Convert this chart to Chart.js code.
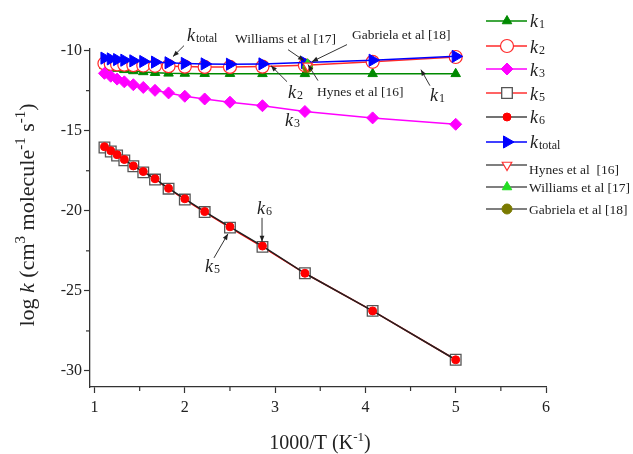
<!DOCTYPE html>
<html>
<head>
<meta charset="utf-8">
<script src="https://cdn.jsdelivr.net/npm/chart.js@4.4.0/dist/chart.umd.min.js"></script>
<style>
html,body{margin:0;padding:0;background:#fff}
#wrap{width:633px;height:454px;position:relative}
</style>
</head>
<body>
<div id="wrap"><canvas id="c"></canvas></div>
<script>
// 1000/T values (K^-1)
const invT = [1.11, 1.18, 1.25, 1.33, 1.43, 1.54, 1.67, 1.82, 2.0, 2.22, 2.5, 2.86, 3.33, 4.08, 5.0];
const k1 = [-10.95, -11.05, -11.12, -11.2, -11.27, -11.33, -11.38, -11.42, -11.43, -11.44, -11.44, -11.45, -11.45, -11.45, -11.45];
const k2 = [-10.8, -10.83, -10.86, -10.88, -10.91, -10.93, -10.95, -10.97, -11.0, -11.02, -11.02, -11.0, -10.92, -10.7, -10.4];
const k3 = [-11.42, -11.6, -11.78, -11.95, -12.13, -12.3, -12.48, -12.64, -12.85, -13.02, -13.22, -13.44, -13.8, -14.2, -14.6];
const k5 = [-16.05, -16.3, -16.55, -16.85, -17.22, -17.6, -18.05, -18.62, -19.3, -20.08, -21.05, -22.25, -23.9, -26.25, -29.3];
const k6 = [-16.0, -16.25, -16.5, -16.8, -17.2, -17.55, -18.0, -18.6, -19.25, -20.05, -21.0, -22.2, -23.9, -26.25, -29.3];
const kTotal = [-10.47, -10.52, -10.56, -10.6, -10.64, -10.68, -10.72, -10.76, -10.8, -10.83, -10.85, -10.83, -10.75, -10.6, -10.36];

// literature values at 298 K
const litX = [3.36];
const hynes = [-10.95];
const williams = [-10.85];
const gabriela = [-11.05];

const xTicks = [1, 2, 3, 4, 5, 6];
const xMinor = [1.5, 2.5, 3.5, 4.5, 5.5];
const yTicks = [-30, -25, -20, -15, -10];
const yMinor = [-27.5, -22.5, -17.5, -12.5];

const SERIF = '"Liberation Serif", "Times New Roman", serif';
const INK = '#222';

function pts(xs, ys){ return xs.map((x, i) => ({x, y: ys[i]})) }

// text labels with arrows, positions in data units
const notes = [
  {segs:[['k','i'],['total','sub']], size:18, at:[2.024,-9.375], from:[1.991,-9.69], to:[1.869,-10.375]},
  {segs:[['Williams et al [17]','n']], size:13.5, at:[2.556,-9.5], from:[3.143,-9.94], to:[3.32,-10.625]},
  {segs:[['Gabriela et al [18]','n']], size:13.5, at:[3.851,-9.25], from:[3.796,-9.625], to:[3.408,-10.69]},
  {segs:[['Hynes et al [16]','n']], size:13.5, at:[3.464,-12.81], from:[3.475,-11.875], to:[3.364,-10.875]},
  {segs:[['k','i'],['2','sub']], size:18, at:[3.143,-12.94], from:[3.132,-11.94], to:[2.954,-10.94]},
  {segs:[['k','i'],['1','sub']], size:18, at:[4.715,-13.125], from:[4.715,-12.19], to:[4.615,-11.19]},
  {segs:[['k','i'],['3','sub']], size:18, at:[3.109,-14.69]},
  {segs:[['k','i'],['6','sub']], size:18, at:[2.799,-20.19], from:[2.855,-20.44], to:[2.855,-21.94]},
  {segs:[['k','i'],['5','sub']], size:18, at:[2.224,-23.81], from:[2.323,-22.94], to:[2.478,-21.44]}
];

function segFont(f, size){
  if(f === 'i') return `italic ${size}px ${SERIF}`;
  if(f === 'sub' || f === 'sup') return `${Math.round(size*0.66)}px ${SERIF}`;
  return `${size}px ${SERIF}`;
}
function richWidth(ctx, segs, size){
  let w = 0;
  segs.forEach(([t, f]) => { ctx.font = segFont(f, size); w += ctx.measureText(t).width + (f==='sub'?1:0) });
  return w;
}
function drawRich(ctx, segs, x, y, size){
  segs.forEach(([t, f]) => {
    ctx.font = segFont(f, size);
    let dy = 0, dx = 0;
    if(f === 'sup') dy = -size*0.42;
    if(f === 'sub'){ dy = size*0.06; dx = 1 }
    ctx.fillText(t, x + dx, y + dy);
    x += ctx.measureText(t).width + dx;
  });
}
function arrow(ctx, x1, y1, x2, y2){
  ctx.beginPath(); ctx.moveTo(x1, y1); ctx.lineTo(x2, y2); ctx.stroke();
  const a = Math.atan2(y2 - y1, x2 - x1), L = 6, W = 2.4;
  ctx.beginPath();
  ctx.moveTo(x2, y2);
  ctx.lineTo(x2 - L*Math.cos(a) + W*Math.sin(a), y2 - L*Math.sin(a) - W*Math.cos(a));
  ctx.lineTo(x2 - L*Math.cos(a) - W*Math.sin(a), y2 - L*Math.sin(a) + W*Math.cos(a));
  ctx.closePath(); ctx.fill();
}

const datasets = [
  {label:'k1', segs:[['k','i'],['1','sub']], data:pts(invT, k1), showLine:true, order:6,
   borderColor:'#008a00', backgroundColor:'#008a00', borderWidth:1.5,
   pointStyle:'triangle', pointRadius:5.5, pointBorderWidth:1, legendLine:'#008a00', legendY:21, textY:27},
  {label:'k2', segs:[['k','i'],['2','sub']], data:pts(invT, k2), showLine:true, order:5,
   borderColor:'#ff2a2a', backgroundColor:'#ffffff', borderWidth:1.5,
   pointStyle:'circle', pointRadius:6.5, pointBorderWidth:1.2, legendLine:'#ff2a2a', legendY:46, textY:53},
  {label:'k3', segs:[['k','i'],['3','sub']], data:pts(invT, k3), showLine:true, order:4,
   borderColor:'#ff00ff', backgroundColor:'#ff00ff', borderWidth:1.5,
   pointStyle:'rectRot', pointRadius:6, pointBorderWidth:1, legendLine:'#ff00ff', legendY:69, textY:76},
  {label:'k5', segs:[['k','i'],['5','sub']], data:pts(invT, k5), showLine:true, order:3,
   borderColor:'#ff0000', backgroundColor:'#ffffff', pointBorderColor:'#555', borderWidth:1.5,
   pointStyle:'rect', pointRadius:7.5, pointBorderWidth:1.3, legendLine:'#ff3030', legendY:93, textY:100},
  {label:'k6', segs:[['k','i'],['6','sub']], data:pts(invT, k6), showLine:true, order:2,
   borderColor:'#222', backgroundColor:'#ff0000', pointBorderColor:'#ff0000', borderWidth:1.5,
   pointStyle:'circle', pointRadius:4, pointBorderWidth:1, legendLine:'#444', legendY:117, textY:123},
  {label:'ktotal', segs:[['k','i'],['total','sub']], data:pts(invT, kTotal), showLine:true, order:1,
   borderColor:'#0000ff', backgroundColor:'#0000ff', borderWidth:1.5,
   pointStyle:'triangle', pointRotation:90, pointRadius:7, pointBorderWidth:1, legendLine:'#0000ff', legendY:142, textY:148},
  {label:'Hynes et al  [16]', segs:[['Hynes et al  [16]','n']], textSize:13.5, data:pts(litX, hynes), showLine:false, order:0,
   borderColor:'#ff3030', backgroundColor:'#ffffff',
   pointStyle:'triangle', pointRotation:180, pointRadius:5.5, pointBorderWidth:1.2, legendLine:'#555', legendY:165, textY:174},
  {label:'Williams et al [17]', segs:[['Williams et al [17]','n']], textSize:13.5, data:pts(litX, williams), showLine:false, order:0,
   borderColor:'#22dd22', backgroundColor:'#22dd22',
   pointStyle:'triangle', pointRadius:5.5, pointBorderWidth:1, legendLine:'#555', legendY:187, textY:192},
  {label:'Gabriela et al [18]', segs:[['Gabriela et al [18]','n']], textSize:13.5, data:pts(litX, gabriela), showLine:false, order:0,
   borderColor:'#7a7a00', backgroundColor:'#7a7a00',
   pointStyle:'circle', pointRadius:5, pointBorderWidth:1, legendLine:'#555', legendY:209, textY:214}
];

const deco = {
  id:'deco',
  afterDraw(chart){
    const ctx = chart.ctx, xs = chart.scales.x, ys = chart.scales.y;
    const P = (x, y) => [xs.getPixelForValue(x), ys.getPixelForValue(y)];
    ctx.save();
    // minor ticks
    ctx.strokeStyle = '#333'; ctx.lineWidth = 1.2;
    xMinor.forEach(v => { const p = xs.getPixelForValue(v); ctx.beginPath(); ctx.moveTo(p, ys.bottom); ctx.lineTo(p, ys.bottom + 4); ctx.stroke(); });
    yMinor.forEach(v => { const p = ys.getPixelForValue(v); ctx.beginPath(); ctx.moveTo(xs.left, p); ctx.lineTo(xs.left - 4, p); ctx.stroke(); });

    // annotations
    ctx.fillStyle = INK; ctx.strokeStyle = '#333'; ctx.lineWidth = 1;
    ctx.textBaseline = 'alphabetic'; ctx.textAlign = 'left';
    notes.forEach(n => {
      const [tx, ty] = P(...n.at);
      drawRich(ctx, n.segs, tx, ty, n.size);
      if(n.from){ const [a, b] = P(...n.from), [c, d] = P(...n.to); arrow(ctx, a, b, c, d); }
    });

    // legend
    const lx0 = 486, lx1 = 527, mx = 507, tx = 530;
    datasets.forEach(ds => {
      ctx.strokeStyle = ds.legendLine; ctx.lineWidth = 1.5;
      ctx.beginPath(); ctx.moveTo(lx0, ds.legendY); ctx.lineTo(lx1, ds.legendY); ctx.stroke();
      ctx.fillStyle = ds.backgroundColor;
      ctx.strokeStyle = ds.pointBorderColor || ds.borderColor;
      ctx.lineWidth = ds.pointBorderWidth;
      Chart.helpers.drawPoint(ctx, {pointStyle: ds.pointStyle, radius: ds.pointRadius, rotation: ds.pointRotation || 0, borderWidth: ds.pointBorderWidth}, mx, ds.legendY);
      ctx.fillStyle = INK;
      drawRich(ctx, ds.segs, ds.textSize ? tx - 1 : tx, ds.textY, ds.textSize || 18);
    });

    // axis titles
    ctx.fillStyle = INK;
    const xt = [['1000/T (K','n'], ['-1','sup'], [')','n']];
    const xw = richWidth(ctx, xt, 20);
    drawRich(ctx, xt, (xs.left + xs.right) / 2 - xw / 2 + 2, 449, 20);

    const yt = [['log ','n'], ['k','i'], [' (cm','n'], ['3','sup'], [' molecule','n'], ['-1','sup'], [' s','n'], ['-1','sup'], [')','n']];
    const yw = richWidth(ctx, yt, 22);
    ctx.translate(34, 215); ctx.rotate(-Math.PI / 2);
    drawRich(ctx, yt, -yw / 2, 0, 22);
    ctx.restore();
  }
};

new Chart(document.getElementById('c'), {
  type:'scatter',
  data:{datasets},
  options:{
    responsive:true, maintainAspectRatio:false, animation:false,
    layout:{padding:{top:49, right:87, left:0, bottom:0}},
    plugins:{legend:{display:false}, tooltip:{enabled:false}},
    scales:{
      x:{
        type:'linear', min:0.95, max:6,
        afterBuildTicks: s => { s.ticks = xTicks.map(v => ({value:v})) },
        afterFit: s => { s.height = 67 },
        grid:{drawOnChartArea:false, drawTicks:true, tickLength:6, tickColor:'#333', tickWidth:1.2},
        border:{color:'#333', width:1.3},
        ticks:{font:{family:SERIF, size:16}, color:INK, padding:5, maxRotation:0}
      },
      y:{
        type:'linear', min:-31, max:-9.9,
        afterBuildTicks: s => { s.ticks = yTicks.map(v => ({value:v})) },
        afterFit: s => { s.width = 90 },
        grid:{drawOnChartArea:false, drawTicks:true, tickLength:6, tickColor:'#333', tickWidth:1.2},
        border:{color:'#333', width:1.3},
        ticks:{font:{family:SERIF, size:16}, color:INK, padding:2}
      }
    }
  },
  plugins:[deco]
});
</script>
</body>
</html>
